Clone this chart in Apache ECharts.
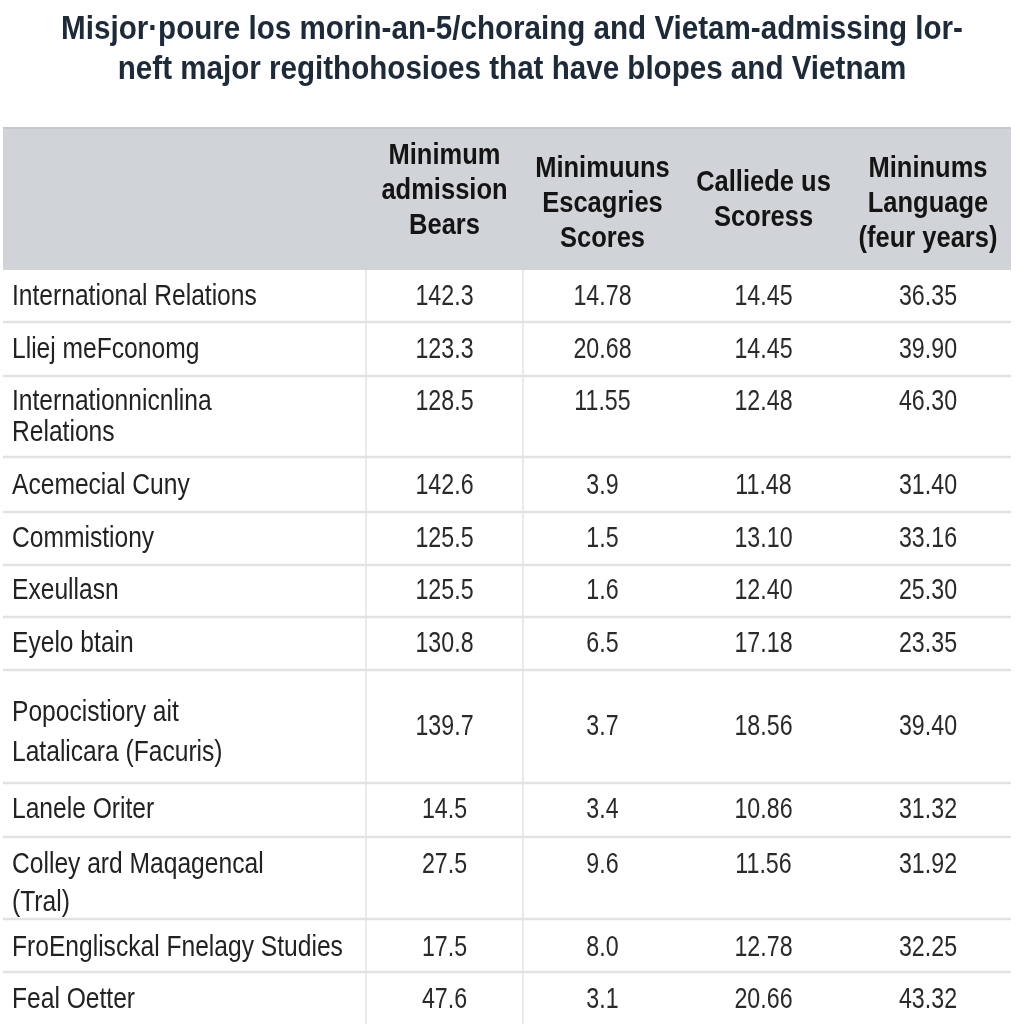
<!DOCTYPE html>
<html>
<head>
<meta charset="utf-8">
<script src="https://cdn.jsdelivr.net/npm/echarts@6/dist/echarts.min.js"></script>
<style>
  html, body { margin: 0; padding: 0; background: #ffffff; }
  #chart { width: 1024px; height: 1024px; }
</style>
</head>
<body>
<div id="chart"></div>
<script>
// ---------------- DATA ----------------
const titleLines = [
  'Misjor\u00b7poure los morin-an-5/choraing and Vietam-admissing lor-',
  'neft major regithohosioes that have blopes and Vietnam'
];

const headers = [
  'Minimum\nadmission\nBears',
  'Minimuuns\nEscagries\nScores',
  'Calliede us\nScoress',
  'Mininums\nLanguage\n(feur years)'
];

const categories = [
  'International Relations',
  'Lliej meFconomg',
  'Internationnicnlina\nRelations',
  'Acemecial Cuny',
  'Commistiony',
  'Exeullasn',
  'Eyelo btain',
  'Popocistiory ait\nLatalicara (Facuris)',
  'Lanele Oriter',
  'Colley ard Maqagencal\n(Tral)',
  'FroEnglisckal Fnelagy Studies',
  'Feal Oetter'
];

const admissionBears  = ['142.3', '123.3', '128.5', '142.6', '125.5', '125.5', '130.8', '139.7', '14.5', '27.5', '17.5', '47.6'];
const escagriesScores = ['14.78', '20.68', '11.55', '3.9', '1.5', '1.6', '6.5', '3.7', '3.4', '9.6', '8.0', '3.1'];
const calliedeScores  = ['14.45', '14.45', '12.48', '11.48', '13.10', '12.40', '17.18', '18.56', '10.86', '11.56', '12.78', '20.66'];
const languageScores  = ['36.35', '39.90', '46.30', '31.40', '33.16', '25.30', '23.35', '39.40', '31.32', '31.92', '32.25', '43.32'];

// ---------------- LAYOUT (kept apart from data) ----------------
const TITLE_X = 512, TITLE_Y = [30, 70];
const COL_EDGES = [3, 366, 523, 682, 845, 1011];
const HEADER_TOP = 128, HEADER_BOTTOM = 270;
const HEADER_CY = [191, 204, 200, 204];
const HEADER_LH = 35;
const ROW_EDGES = [270, 322, 376, 457, 512, 565, 617, 670, 783, 837, 919, 972, 1024];
const LABEL_Y  = [297, 350, 402, 486, 539, 591, 644, 713, 810, 865, 948, 1000];
const LABEL_LH = [0, 0, 31, 0, 0, 0, 0, 40, 0, 38, 0, 0];
const VALUE_Y  = [297, 350, 402, 486, 539, 591, 644, 727, 810, 865, 948, 1000];
const LABEL_X = 12;

const FONT = "'Liberation Sans', Arial, sans-serif";

const valueCols = [admissionBears, escagriesScores, calliedeScores, languageScores];

const chart = echarts.init(document.getElementById('chart'), null, { renderer: 'canvas' });

// condensed text element: anchor at pt, squeezed horizontally
function narrowText(pt, text, align, opts) {
  return {
    type: 'text',
    x: pt[0], y: pt[1],
    scaleX: opts.scaleX,
    style: Object.assign({
      text: text, x: 0, y: 0, align: align, verticalAlign: 'middle',
      fontFamily: FONT
    }, opts.style)
  };
}

function headerRender(params, api) {
  const p0 = api.coord([COL_EDGES[0], HEADER_TOP]);
  const p1 = api.coord([COL_EDGES[5], HEADER_BOTTOM]);
  const children = [{
    type: 'rect',
    shape: { x: p0[0], y: p0[1], width: p1[0] - p0[0], height: p1[1] - p0[1] },
    style: { fill: '#d0d3d7' }
  }, {
    type: 'line',
    shape: { x1: p0[0], y1: p0[1], x2: p1[0], y2: p0[1] },
    style: { stroke: '#c4c8cd', lineWidth: 2 }
  }];
  // title
  titleLines.forEach((ln, k) => {
    children.push(narrowText(api.coord([TITLE_X, TITLE_Y[k]]), ln, 'center', {
      scaleX: 0.87,
      style: { fontSize: 34, fontWeight: 'bold', fill: '#1c2a3a' }
    }));
  });
  headers.forEach((h, c) => {
    const lines = h.split('\n');
    const cx = (COL_EDGES[c + 1] + COL_EDGES[c + 2]) / 2;
    const startY = HEADER_CY[c] - (lines.length - 1) * HEADER_LH / 2;
    lines.forEach((ln, k) => {
      children.push(narrowText(api.coord([cx, startY + k * HEADER_LH]), ln, 'center', {
        scaleX: 0.85,
        style: { fontSize: 30, fontWeight: 'bold', fill: '#141414' }
      }));
    });
  });
  // vertical dividers in body
  [COL_EDGES[1], COL_EDGES[2]].forEach(x => {
    const a = api.coord([x, HEADER_BOTTOM]);
    const b = api.coord([x, 1024]);
    children.push({
      type: 'line',
      shape: { x1: a[0], y1: a[1], x2: b[0], y2: b[1] },
      style: { stroke: '#e3e3e3', lineWidth: 1.5 }
    });
  });
  return { type: 'group', children };
}

function rowRender(params, api) {
  const i = api.value(0);
  const children = [];
  const y2 = ROW_EDGES[i + 1];
  if (i < categories.length - 1) {
    const a = api.coord([COL_EDGES[0], y2]);
    const b = api.coord([COL_EDGES[5], y2]);
    children.push({
      type: 'line',
      shape: { x1: a[0], y1: a[1], x2: b[0], y2: b[1] },
      style: { stroke: '#e2e2e2', lineWidth: 2.5 }
    });
  }
  categories[i].split('\n').forEach((ln, k) => {
    children.push(narrowText(api.coord([LABEL_X, LABEL_Y[i] + k * LABEL_LH[i]]), ln, 'left', {
      scaleX: 0.82,
      style: { fontSize: 30, fill: '#222222' }
    }));
  });
  valueCols.forEach((col, c) => {
    const cx = (COL_EDGES[c + 1] + COL_EDGES[c + 2]) / 2;
    children.push(narrowText(api.coord([cx, VALUE_Y[i]]), col[i], 'center', {
      scaleX: 0.8,
      style: { fontSize: 29, fill: '#2a2a2a' }
    }));
  });
  return { type: 'group', children };
}

chart.setOption({
  backgroundColor: '#ffffff',
  animation: false,
  grid: { left: 0, right: 0, top: 0, bottom: 0 },
  xAxis: { type: 'value', min: 0, max: 1024, show: false },
  yAxis: { type: 'value', min: 0, max: 1024, inverse: true, show: false },
  series: [
    {
      type: 'custom',
      name: 'header',
      renderItem: headerRender,
      data: [[0]],
      silent: true,
      clip: false
    },
    {
      type: 'custom',
      name: 'rows',
      renderItem: rowRender,
      data: categories.map((c, i) => [i]),
      silent: true,
      clip: false
    }
  ]
});
</script>
</body>
</html>
